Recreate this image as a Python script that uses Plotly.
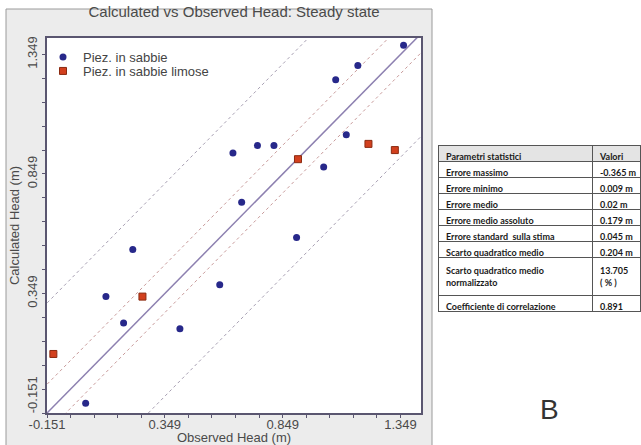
import plotly.graph_objects as go

# ---- data ----
sabbie_obs = [1.362, 1.168, 1.074, 1.119, 0.638, 0.742, 0.812, 1.023, 0.675,
              0.908, 0.213, 0.582, 0.099, 0.174, 0.413, 0.013]
sabbie_calc = [1.388, 1.303, 1.243, 1.013, 0.937, 0.968, 0.968, 0.878, 0.731,
               0.583, 0.533, 0.386, 0.336, 0.226, 0.201, -0.110]
limose_obs = [0.914, 1.213, 1.325, 0.254, -0.124]
limose_calc = [0.911, 0.975, 0.949, 0.336, 0.096]

inner_offsets = [0.12, -0.08]
outer_offsets = [0.46, -0.43]

tick_labels = ["-0.151", "0.349", "0.849", "1.349"]
tick_vals = [-0.151, 0.349, 0.849, 1.349]

param_names = ["Errore massimo", "Errore minimo", "Errore medio", "Errore medio assoluto",
               "Errore standard  sulla stima", "Scarto quadratico medio",
               "Scarto quadratico medio<br>normalizzato", "Coefficiente di correlazione"]
param_values = ["-0.365\u00a0m", "0.009\u00a0m", "0.02\u00a0m", "0.179\u00a0m", "0.045\u00a0m",
                "0.204\u00a0m", "13.705<br>(\u00a0%\u00a0)", "0.891"]
table_header = ["Parametri\u00a0statistici", "Valori"]

W, H = 641, 445
XR = [-0.151, 1.436]
YR = [-0.151, 1.418]

def px(x):
    return x / W

def py(y):
    return 1 - y / H

# first y label is lifted so that it stays above the bottom of the frame
y_ticktext = ["\u00a0" * 9 + tick_labels[0]] + tick_labels[1:]

fig = go.Figure()

line_x = [XR[0] - 1, XR[1] + 1]
for off in outer_offsets:
    fig.add_trace(go.Scatter(x=line_x, y=[v + off for v in line_x], mode="lines",
                             line=dict(color="#a79fb2", width=1, dash="dot"),
                             showlegend=False, hoverinfo="skip"))
for off in inner_offsets:
    fig.add_trace(go.Scatter(x=line_x, y=[v + off for v in line_x], mode="lines",
                             line=dict(color="#c89a9a", width=1, dash="dot"),
                             showlegend=False, hoverinfo="skip"))
fig.add_trace(go.Scatter(x=line_x, y=line_x, mode="lines",
                         line=dict(color="#8d80b0", width=1.5),
                         showlegend=False, hoverinfo="skip"))

fig.add_trace(go.Scatter(x=sabbie_obs, y=sabbie_calc, mode="markers",
                         name="Piez. in sabbie", legend="legend",
                         marker=dict(symbol="circle", size=7, color="#27288a")))
fig.add_trace(go.Scatter(x=limose_obs, y=limose_calc, mode="markers",
                         name="Piez. in sabbie limose", legend="legend2",
                         marker=dict(symbol="square", size=7, color="#d2401e",
                                     line=dict(color="#8a2a10", width=1))))

fig.add_trace(go.Table(
    domain=dict(x=[px(438), px(640)], y=[py(314), py(145)]),
    columnwidth=[154, 48],
    header=dict(values=table_header, fill_color="#e4e4e4", align="left",
                line=dict(color="#555555", width=1), height=16,
                font=dict(family="Lato", size=9, color="#1a1a1a", weight="bold")),
    cells=dict(values=[param_names, param_values], fill_color="white", align="left",
               line=dict(color="#555555", width=1), height=16,
               font=dict(family="Lato", size=9, color="#1a1a1a", weight="bold")),
))

axis_font = dict(family="Arial, Liberation Sans", size=13, color="#4a4a4a")
legend_common = dict(xanchor="left", yanchor="top", bgcolor="rgba(0,0,0,0)",
                     itemwidth=30, tracegroupgap=0,
                     font=dict(family="Arial, Liberation Sans", size=13, color="#444444"))

fig.update_layout(
    width=W, height=H,
    margin=dict(l=0, r=0, t=0, b=0, autoexpand=False),
    paper_bgcolor="white",
    plot_bgcolor="white",
    font=dict(family="Arial, Liberation Sans", size=13, color="#444444"),
    title=dict(text="Calculated vs Observed Head: Steady state", x=px(234), xanchor="center",
               y=py(12), yanchor="middle", automargin=False,
               font=dict(family="Arial, Liberation Sans", size=15, color="#4a4a4a")),
    xaxis=dict(domain=[px(47), px(421)], range=XR, tickvals=tick_vals, ticktext=tick_labels,
               automargin=False, ticklabelstandoff=-5, ticklabeloverflow="allow",
               showgrid=False, zeroline=False, showline=True, mirror=True,
               linecolor="#5a5670", linewidth=2, ticks="outside", ticklen=3,
               tickcolor="#5a5670", tickfont=axis_font,
               minor=dict(tick0=-0.151, dtick=0.1, ticks="outside", ticklen=3, tickcolor="#5a5670"),
               title=dict(text="Observed Head (m)", font=axis_font, standoff=4)),
    yaxis=dict(domain=[py(413), py(38)], range=YR, tickvals=tick_vals, ticktext=y_ticktext,
               automargin=False, ticklabeloverflow="allow",
               tickangle=-90, showgrid=False, zeroline=False, showline=True, mirror=True,
               linecolor="#5a5670", linewidth=2, ticks="outside", ticklen=3,
               tickcolor="#5a5670", tickfont=axis_font,
               minor=dict(tick0=-0.151, dtick=0.1, ticks="outside", ticklen=3, tickcolor="#5a5670"),
               title=dict(text="Calculated Head (m)", font=axis_font, standoff=2)),
    legend=dict(x=px(43), y=py(42), **legend_common),
    legend2=dict(x=px(43), y=py(56), **legend_common),
    shapes=[dict(type="rect", xref="paper", yref="paper", layer="below",
                 x0=px(6), x1=px(432), y0=py(446), y1=py(9),
                 fillcolor="#ececec", line=dict(color="#9a9a9a", width=1)),
            dict(type="rect", xref="x domain", yref="y domain", layer="below",
                 x0=0, x1=1, y0=0, y1=1, fillcolor="white", line=dict(width=0))],
    annotations=[dict(text="B", xref="paper", yref="paper", x=px(549), y=py(409),
                      xanchor="center", yanchor="middle", showarrow=False,
                      font=dict(family="Arial, Liberation Sans", size=28, color="#333333"))],
)

fig.write_html("out.html")
